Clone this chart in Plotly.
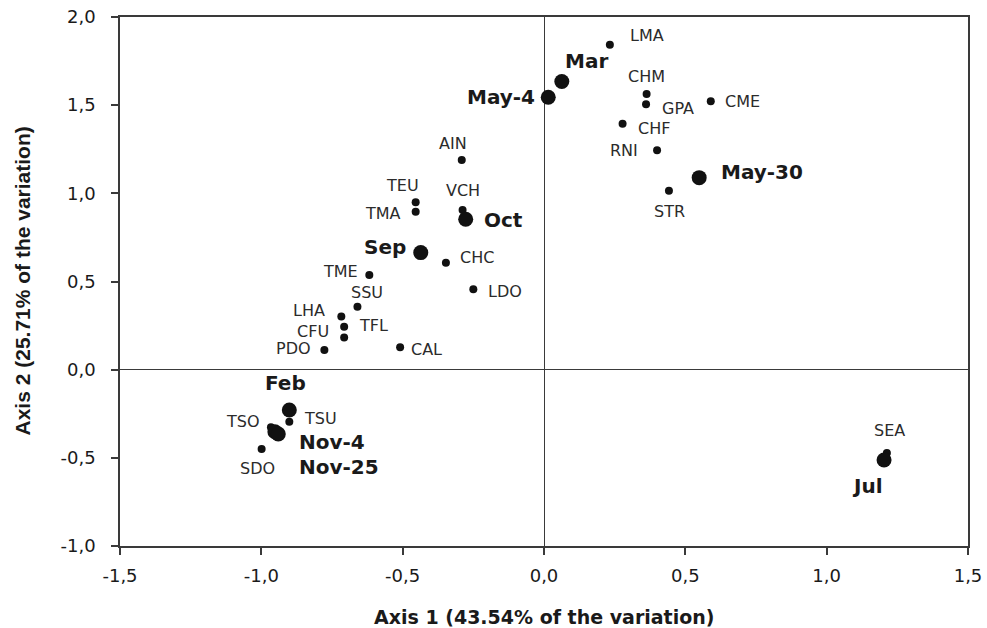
import plotly.graph_objects as go

# Species scores (small dots)
species = ["LMA", "CHM", "GPA", "CME", "CHF", "RNI", "STR", "AIN", "TEU", "VCH", "TMA",
           "CHC", "TME", "LDO", "SSU", "LHA", "TFL", "CFU", "PDO", "CAL", "TSU", "TSO",
           "SDO", "SEA"]
species_x = [0.233, 0.363, 0.361, 0.590, 0.278, 0.400, 0.442, -0.291, -0.454, -0.288, -0.454,
             -0.347, -0.618, -0.250, -0.660, -0.717, -0.707, -0.707, -0.777, -0.509, -0.901, -0.966,
             -0.999, 1.213]
species_y = [1.842, 1.564, 1.505, 1.522, 1.394, 1.244, 1.015, 1.189, 0.950, 0.906, 0.896,
             0.607, 0.537, 0.456, 0.357, 0.301, 0.244, 0.182, 0.112, 0.127, -0.295, -0.327,
             -0.450, -0.472]

# Sampling dates (large dots)
dates = ["Mar", "May-4", "May-30", "Oct", "Sep", "Feb", "Nov-4", "Nov-25", "Jul"]
dates_x = [0.063, 0.015, 0.549, -0.277, -0.436, -0.901, -0.952, -0.940, 1.203]
dates_y = [1.634, 1.545, 1.089, 0.853, 0.664, -0.229, -0.352, -0.365, -0.512]

x_ticks = [-1.5, -1.0, -0.5, 0.0, 0.5, 1.0, 1.5]
x_ticktext = ["-1,5", "-1,0", "-0,5", "0,0", "0,5", "1,0", "1,5"]
y_ticks = [-1.0, -0.5, 0.0, 0.5, 1.0, 1.5, 2.0]
y_ticktext = ["-1,0", "-0,5", "0,0", "0,5", "1,0", "1,5", "2,0"]

# label placement: (anchor, dx px, dy px up)
species_place = {
    "LMA": ("left", 18, 9), "CHM": ("center", 0, 17), "GPA": ("left", 14, -4),
    "CME": ("left", 12, 0), "CHF": ("left", 13, -5), "RNI": ("right", -17, 0),
    "STR": ("center", 1, -21), "AIN": ("center", -9, 17), "TEU": ("center", -13, 17),
    "VCH": ("center", 0, 19), "TMA": ("right", -13, -2), "CHC": ("left", 12, 5),
    "TME": ("right", -9, 3), "LDO": ("left", 13, -2), "SSU": ("center", 10, 14),
    "LHA": ("right", -14, 6), "TFL": ("left", 13, 1), "CFU": ("right", -13, 6),
    "PDO": ("right", -11, 1), "CAL": ("left", 9, -2), "TSU": ("left", 13, 3),
    "TSO": ("right", -9, 6), "SDO": ("center", -4, -19), "SEA": ("center", 3, 22),
}
dates_place = {
    "Mar": ("left", 1, 21), "May-4": ("right", -11, 0), "May-30": ("left", 20, 6),
    "Oct": ("left", 16, -1), "Sep": ("right", -13, 6), "Feb": ("center", -4, 27),
    "Nov-4": ("left", 22, -10), "Nov-25": ("left", 19, -33), "Jul": ("center", -17, -26),
}

TEXT_FONT = "DejaVu Sans"
INK = "#1a1a1a"

fig = go.Figure()

fig.add_trace(go.Scatter(
    x=species_x, y=species_y, mode="markers",
    marker=dict(size=8, color="#111111"),
    hoverinfo="text", text=species, showlegend=False))

fig.add_trace(go.Scatter(
    x=dates_x, y=dates_y, mode="markers",
    marker=dict(size=15, color="#111111"),
    hoverinfo="text", text=dates, showlegend=False))

annotations = []
for name, x, y in zip(species, species_x, species_y):
    anchor, dx, dy = species_place[name]
    annotations.append(dict(x=x, y=y, xref="x", yref="y", text=name, showarrow=False,
                            xanchor=anchor, yanchor="middle", xshift=dx, yshift=dy,
                            font=dict(family=TEXT_FONT, size=16, color="#2b2b2b")))
for name, x, y in zip(dates, dates_x, dates_y):
    anchor, dx, dy = dates_place[name]
    annotations.append(dict(x=x, y=y, xref="x", yref="y", text="<b>%s</b>" % name,
                            showarrow=False, xanchor=anchor, yanchor="middle",
                            xshift=dx, yshift=dy,
                            font=dict(family=TEXT_FONT, size=20, color=INK)))

# axis titles
annotations.append(dict(x=0.5, y=0, xref="paper", yref="paper", yshift=-71,
                        xanchor="center", yanchor="middle", showarrow=False,
                        text="<b>Axis 1 (43.54% of the variation)</b>",
                        font=dict(family=TEXT_FONT, size=19, color=INK)))
annotations.append(dict(x=0, y=0.5, xref="paper", yref="paper", xshift=-98,
                        xanchor="center", yanchor="middle", showarrow=False, textangle=-90,
                        text="<b>Axis 2 (25.71% of the variation)</b>",
                        font=dict(family="Liberation Sans", size=21, color=INK)))

axis_common = dict(
    showgrid=False, zeroline=True, zerolinecolor="#3a3a3a", zerolinewidth=1.3,
    showline=True, linecolor="#3a3a3a", linewidth=1.5, mirror=True,
    ticks="outside", ticklen=7, tickcolor="#3a3a3a", tickwidth=1.5,
    tickfont=dict(family=TEXT_FONT, size=18, color=INK),
    automargin=False,
)

fig.update_layout(
    width=987, height=628,
    margin=dict(l=120, r=19, t=17, b=82),
    paper_bgcolor="white", plot_bgcolor="white",
    xaxis=dict(range=[-1.5, 1.5], tickvals=x_ticks, ticktext=x_ticktext,
               ticklabelstandoff=6, **axis_common),
    yaxis=dict(range=[-1.0, 2.0], tickvals=y_ticks, ticktext=y_ticktext,
               ticklabelstandoff=12, **axis_common),
    annotations=annotations,
)

fig.write_html("out.html")
